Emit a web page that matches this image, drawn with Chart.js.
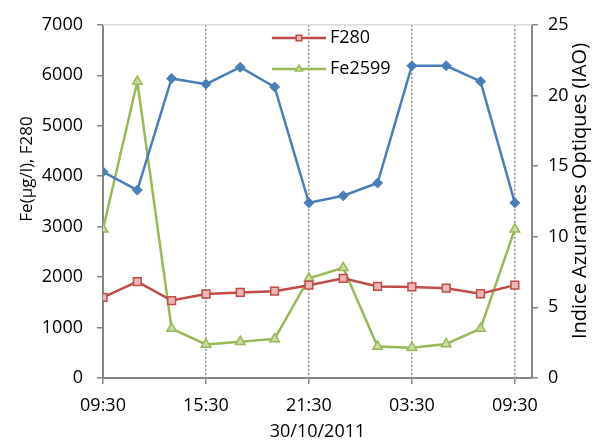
<!DOCTYPE html>
<html>
<head>
<meta charset="utf-8">
<script src="https://cdn.jsdelivr.net/npm/chart.js@4.4.0/dist/chart.umd.min.js"></script>
<style>
  html, body { margin: 0; padding: 0; background: #fff; }
  #wrap { width: 610px; height: 443px; }
</style>
</head>
<body>
<div id="wrap"><canvas id="grafik" width="610" height="443"></canvas></div>
<script>
// hours since 09:30 on 30/10/2011, one sample every 2 hours
const hours = [0, 2, 4, 6, 8, 10, 12, 14, 16, 18, 20, 22, 24];
const f280 = [1600, 1910, 1535, 1665, 1695, 1720, 1840, 1975, 1815, 1805, 1780, 1670, 1840];
const fe2599 = [2950, 5875, 980, 665, 720, 775, 1975, 2185, 625, 600, 675, 980, 2950];
const iao = [14.6, 13.3, 21.2, 20.8, 22.0, 20.6, 12.4, 12.9, 13.8, 22.1, 22.1, 21.0, 12.4];

const tickHours = [0, 6, 12, 18, 24];
const tickLabels = ['09:30', '15:30', '21:30', '03:30', '09:30'];

const fontFamily = "'Open Sans', sans-serif";
Chart.defaults.font.family = fontFamily;
Chart.defaults.font.size = 18;
Chart.defaults.color = '#000';

const axisGrey = '#868686';

function pts(values) {
    return hours.map((h, i) => ({ x: h, y: values[i] }));
}

// legend + rotated axis titles, drawn on the canvas
const extras = {
    id: 'extras',
    afterDatasetsDraw(chart) {
        const ctx = chart.ctx;
        const area = chart.chartArea;
        ctx.save();
        // light top border of the plot
        ctx.strokeStyle = '#d9d9d9';
        ctx.lineWidth = 1.5;
        ctx.beginPath();
        ctx.moveTo(area.left, area.top);
        ctx.lineTo(area.right, area.top);
        ctx.stroke();

        // legend
        const rows = [0, 1];
        rows.forEach((idx, r) => {
            const ds = chart.data.datasets[idx];
            const y = 38 + r * 31;
            ctx.strokeStyle = ds.borderColor;
            ctx.lineWidth = 2.5;
            ctx.beginPath();
            ctx.moveTo(272, y);
            ctx.lineTo(326, y);
            ctx.stroke();
            ctx.lineWidth = 1.5;
            ctx.fillStyle = ds.pointBackgroundColor;
            Chart.helpers.drawPoint(ctx, {
                pointStyle: ds.pointStyle, radius: 4, rotation: 0, borderWidth: 1.5
            }, 299, y);
            ctx.fillStyle = '#000';
            ctx.font = '18px ' + fontFamily;
            ctx.textAlign = 'left';
            ctx.textBaseline = 'middle';
            ctx.fillText(ds.label, 330, y);
        });

        // axis titles reading bottom to top
        ctx.fillStyle = '#000';
        ctx.textAlign = 'center';
        ctx.textBaseline = 'middle';
        ctx.font = '17px ' + fontFamily;
        ctx.translate(27, 169);
        ctx.rotate(-Math.PI / 2);
        ctx.fillText('Fe(µg/l), F280', 0, 0);
        ctx.restore();

        ctx.save();
        ctx.fillStyle = '#000';
        ctx.textAlign = 'center';
        ctx.textBaseline = 'middle';
        ctx.font = '20px ' + fontFamily;
        ctx.translate(580, 191);
        ctx.rotate(-Math.PI / 2);
        ctx.fillText('Indice Azurantes Optiques (IAO)', 0, 0);
        ctx.restore();
    }
};

const config = {
    type: 'line',
    data: {
        datasets: [{
            label: 'F280',
            data: pts(f280),
            yAxisID: 'y',
            borderColor: '#BE4B48',
            backgroundColor: '#BE4B48',
            pointStyle: 'rect',
            pointRadius: 5.5,
            pointBorderWidth: 1.5,
            pointBackgroundColor: '#E8B7B6',
            pointBorderColor: '#BE4B48',
            borderWidth: 2.5,
            order: 2
        }, {
            label: 'Fe2599',
            data: pts(fe2599),
            yAxisID: 'y',
            borderColor: '#98B954',
            backgroundColor: '#98B954',
            pointStyle: 'triangle',
            pointRadius: 5.5,
            pointBorderWidth: 1.5,
            pointBackgroundColor: '#C9DBA6',
            pointBorderColor: '#98B954',
            borderWidth: 2.5,
            order: 3
        }, {
            label: 'IAO',
            data: pts(iao),
            yAxisID: 'y1',
            borderColor: '#4A7EBB',
            backgroundColor: '#4A7EBB',
            pointStyle: 'rectRot',
            pointRadius: 5,
            pointBorderWidth: 1,
            pointBackgroundColor: '#4A7EBB',
            pointBorderColor: '#4A7EBB',
            borderWidth: 2.5,
            order: 1
        }]
    },
    options: {
        responsive: false,
        animation: false,
        layout: { padding: { top: 19, left: 0, right: 0, bottom: 0 } },
        plugins: {
            legend: { display: false },
            tooltip: { enabled: false }
        },
        scales: {
            x: {
                type: 'linear',
                min: 0,
                max: 25,
                afterBuildTicks: s => { s.ticks = tickHours.map(v => ({ value: v })); },
                afterFit: s => { s.height = 65; },
                ticks: {
                    padding: 11,
                    maxRotation: 0,
                    callback: v => tickLabels[tickHours.indexOf(v)]
                },
                grid: {
                    color: '#8c8c8c',
                    lineWidth: 1.5,
                    tickLength: 6,
                    tickColor: axisGrey,
                    drawOnChartArea: true
                },
                border: { color: axisGrey, width: 2, dash: [2, 2] },
                title: {
                    display: true,
                    text: '30/10/2011',
                    padding: { top: 1, bottom: 0 }
                }
            },
            y: {
                position: 'left',
                min: 0,
                max: 7000,
                afterFit: s => { s.width = 103; },
                ticks: { stepSize: 1000, padding: 14, callback: v => String(v) },
                grid: { drawOnChartArea: false, tickLength: 6, tickColor: axisGrey, lineWidth: 1.5 },
                border: { color: axisGrey, width: 2 }
            },
            y1: {
                position: 'right',
                min: 0,
                max: 25,
                afterFit: s => { s.width = 78; },
                ticks: { stepSize: 5, padding: 10, callback: v => String(v) },
                grid: { drawOnChartArea: false, tickLength: 6, tickColor: axisGrey, lineWidth: 1.5 },
                border: { color: axisGrey, width: 2 }
            }
        }
    },
    plugins: [extras]
};

const myChart = new Chart(document.getElementById('grafik'), config);
</script>
</body>
</html>
